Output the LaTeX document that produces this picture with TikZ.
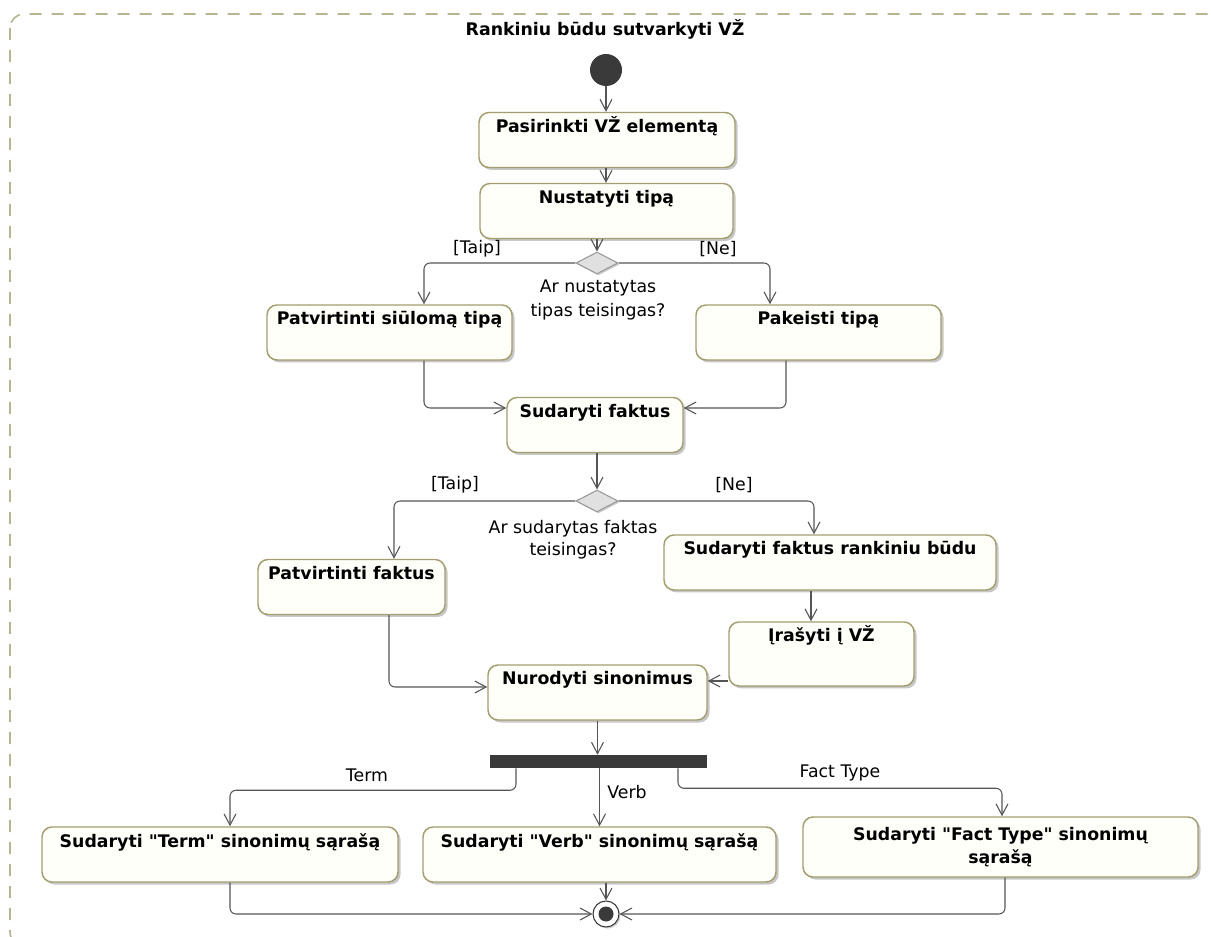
\documentclass[tikz,border=0pt]{standalone}
\usepackage{fontspec}
\setmainfont{DejaVu Sans}[Ligatures=TeXOff]
\usetikzlibrary{arrows.meta,shapes.geometric,shadows}
\newdimen\pxu \pxu=0.75pt
\definecolor{boxline}{RGB}{163,158,112}
\definecolor{frameline}{RGB}{184,180,146}
\definecolor{flow}{RGB}{85,85,85}
\definecolor{solid}{RGB}{58,58,58}
\definecolor{boxfill}{RGB}{255,255,250}
\begin{document}
\begin{tikzpicture}[x=0.75pt,y=-0.75pt,
  txt/.style={font=\fontsize{13}{17}\selectfont},
  act/.style={draw=boxline, line width=1.1pt, rounded corners=10\pxu,
    fill=boxfill, inner xsep=4\pxu, inner ysep=0pt,
    text height=20\pxu, text depth=35\pxu,
    font=\bfseries\fontsize{13}{17}\selectfont,
    drop shadow={shadow xshift=2.5\pxu, shadow yshift=-2.5\pxu, fill=black, opacity=0.22}},
  decision/.style={diamond, draw=black!40, fill=black!12, line width=0.8pt,
    minimum width=42\pxu, minimum height=22\pxu, inner sep=0pt,
    drop shadow={shadow xshift=1.5\pxu, shadow yshift=-1.5\pxu, fill=black, opacity=0.2}},
  arr/.style={draw=flow, line width=0.8pt, rounded corners=6\pxu,
    -{Straight Barb[length=8.5pt,width=9pt]}},
  frame/.style={draw=frameline, line width=1.2pt, dash pattern=on 12\pxu off 10\pxu,
    rounded corners=14\pxu}
]
% canvas
\path[use as bounding box, fill=white] (0,0) rectangle (1211,937);
\draw[frame] (10,14) rectangle (1222,946);

% title
\node[font=\bfseries\fontsize{13}{17}\selectfont] (title) at (605,29) {Rankiniu būdu sutvarkyti VŽ};

% start node
\node[circle, fill=solid, minimum size=32\pxu, inner sep=0pt] (start) at (606,70) {};

% actions
\node[act, minimum width=256\pxu] (b1) at (607,140) {Pasirinkti VŽ elementą};
\node[act, minimum width=253\pxu] (b2) at (606.5,211) {Nustatyti tipą};
\node[act, minimum width=245\pxu] (b3) at (389.5,332.5) {Patvirtinti siūlomą tipą};
\node[act, minimum width=245\pxu] (b4) at (818.5,332.5) {Pakeisti tipą};
\node[act, minimum width=176\pxu] (b5) at (595,425) {Sudaryti faktus};
\node[act, minimum width=187\pxu] (b6) at (351.5,587) {Patvirtinti faktus};
\node[act, minimum width=332\pxu] (b7) at (830,562.5) {Sudaryti faktus rankiniu būdu};
\node[act, minimum width=185\pxu, text depth=44\pxu] (b8) at (821.5,654) {Įrašyti į VŽ};
\node[act, minimum width=219\pxu] (b9) at (597.5,692.5) {Nurodyti sinonimus};
\node[act, minimum width=356\pxu] (b10) at (220,854.5) {Sudaryti "Term" sinonimų sąrašą};
\node[act, minimum width=353\pxu] (b11) at (599.5,854.5) {Sudaryti "Verb" sinonimų sąrašą};
\node[act, minimum width=395\pxu, minimum height=60\pxu, text height=, text depth=, align=center]
  (b12) at (1000.5,847) {Sudaryti "Fact Type" sinonimų\\sąrašą};

% decisions
\node[decision] (d1) at (597,263) {};
\node[decision] (d2) at (597,501) {};

% fork bar
\node[rectangle, fill=solid, minimum width=217\pxu, minimum height=13\pxu, inner sep=0pt] (bar) at (598.5,761.5) {};

% final node
\node[circle, draw=solid, line width=0.8pt, fill=white, minimum size=26\pxu, inner sep=0pt,
  drop shadow={shadow xshift=1.5\pxu, shadow yshift=-1.5\pxu, fill=black, opacity=0.2}] (final) at (606,914) {};
\node[circle, fill=solid, minimum size=15\pxu, inner sep=0pt] (finaldot) at (final.center) {};

% guards and decision texts
\node[txt] (g1y) at (477,249) {[Taip]};
\node[txt] (g1n) at (718,249) {[Ne]};
\node[txt, align=center, font=\fontsize{13}{18}\selectfont] (q1) at (598,300) {Ar nustatytas\\tipas teisingas?};
\node[txt] (g2y) at (455,485) {[Taip]};
\node[txt] (g2n) at (734,485) {[Ne]};
\node[txt, align=center, font=\fontsize{13}{16.5}\selectfont] (q2) at (573,540) {Ar sudarytas faktas\\teisingas?};
\node[txt] (lterm) at (367,775) {Term};
\node[txt] (lverb) at (627,792) {Verb};
\node[txt] (lfact) at (840,773) {Fact Type};

% flows
\draw[arr] (start.south) -- (start.south |- b1.north);
\draw[arr] (b1.south -| start.south) -- (b2.north -| start.south);
\draw[arr] (d1.north |- b2.south) -- (d1.north);
\draw[arr] (d1.west) -| ([xshift=34.5\pxu]b3.north);
\draw[arr] (d1.east) -| ([xshift=-48.5\pxu]b4.north);
\draw[arr] ([xshift=34.5\pxu]b3.south) |- ([yshift=17\pxu]b5.west);
\draw[arr] ([xshift=-32.5\pxu]b4.south) |- ([yshift=17\pxu]b5.east);
\draw[arr] (d2.north |- b5.south) -- (d2.north);
\draw[arr] (d2.west) -| ([xshift=42.5\pxu]b6.north);
\draw[arr] (d2.east) -| ([xshift=-16\pxu]b7.north);
\draw[arr] ([xshift=-10.5\pxu]b8.north |- b7.south) -- ([xshift=-10.5\pxu]b8.north);
\draw[arr] ([xshift=37.5\pxu]b6.south) |- ([yshift=5.5\pxu]b9.west);
\draw[arr] ([yshift=11.5\pxu]b9.east -| b8.west) -- ([yshift=11.5\pxu]b9.east);
\draw[arr] (b9.south) -- (b9.south |- bar.north);
\draw[arr] ([xshift=-82.5\pxu]bar.south) -- ++(0,22) -| ([xshift=10\pxu]b10.north);
\draw[arr] (bar.south -| b11.north) -- (b11.north);
\draw[arr] ([xshift=79.5\pxu]bar.south) -- ++(0,20) -| ([xshift=1.5\pxu]b12.north);
\draw[arr] ([xshift=10\pxu]b10.south) |- (final.west);
\draw[arr] (final.north |- b11.south) -- (final.north);
\draw[arr] ([xshift=4.5\pxu]b12.south) |- (final.east);
\end{tikzpicture}
\end{document}
